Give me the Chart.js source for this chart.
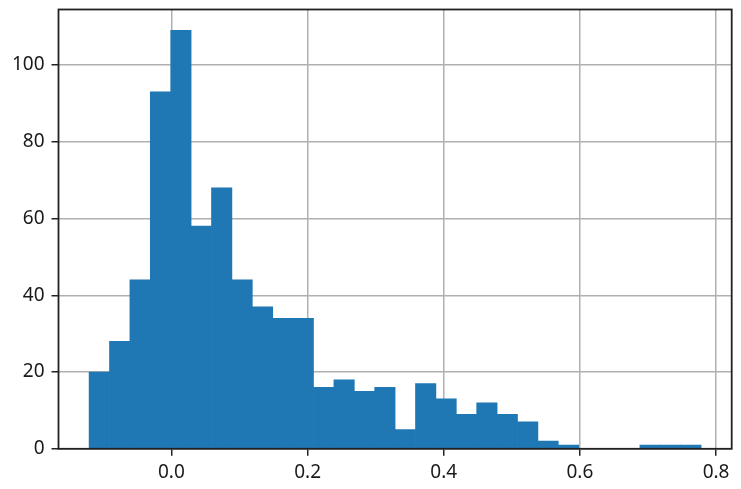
<!DOCTYPE html>
<html>
<head>
<meta charset="utf-8">
<script src="https://cdn.jsdelivr.net/npm/chart.js@4"></script>
<style>
  html, body { margin: 0; padding: 0; background: #fff; }
</style>
</head>
<body>
<canvas id="hist" width="741" height="489"></canvas>
<script>
// histogram counts, 30 equal bins between binMin and binMax
const counts = [20, 28, 44, 93, 109, 58, 68, 44, 37, 34, 34, 16, 18, 15, 16, 5, 17, 13, 9, 12, 9, 7, 2, 1, 0, 0, 0, 1, 1, 1];
const binMin = -0.1209;
const binMax = 0.778;
const xTicks = [0.0, 0.2, 0.4, 0.6, 0.8];
const yTicks = [0, 20, 40, 60, 80, 100];

const binWidth = (binMax - binMin) / counts.length;
const points = counts.map((c, i) => ({ x: binMin + (i + 0.5) * binWidth, y: c }));
const span = binMax - binMin;

// matplotlib style box around the plot area
const framePlugin = {
  id: "frame",
  afterDraw(chart) {
    const { ctx, chartArea: a } = chart;
    ctx.save();
    ctx.strokeStyle = "#222";
    ctx.lineWidth = 1.8;
    ctx.strokeRect(a.left, a.top, a.right - a.left, a.bottom - a.top);
    ctx.restore();
  },
};

const tickFont = { family: "Noto Sans", size: 19 };
const gridOpts = { color: "#b0b0b0", lineWidth: 1.5, tickColor: "#222", tickLength: 7, tickWidth: 1.5, offset: false };

new Chart(document.getElementById("hist"), {
  type: "bar",
  data: {
    datasets: [
      {
        data: points,
        backgroundColor: "#1f77b4",
        borderWidth: 0,
        barPercentage: 1,
        categoryPercentage: 1,
      },
    ],
  },
  options: {
    responsive: false,
    animation: false,
    devicePixelRatio: 1,
    layout: { padding: { top: 9.5, right: 9.3, left: 0, bottom: 0 } },
    plugins: { legend: { display: false }, tooltip: { enabled: false } },
    scales: {
      x: {
        type: "linear",
        z: 1,
        offset: false,
        min: binMin - 0.05 * span,
        max: binMax + 0.05 * span,
        afterBuildTicks: (s) => { s.ticks = xTicks.map((v) => ({ value: v })); },
        afterFit: (s) => { s.height = 40.2; s.paddingLeft = 0; s.paddingRight = 0; },
        border: { display: false },
        grid: gridOpts,
        ticks: { color: "#1a1a1a", font: tickFont, padding: 5, maxRotation: 0, callback: (v) => v.toFixed(1) },
      },
      y: {
        z: 1,
        min: 0,
        max: 109 * 1.05,
        afterBuildTicks: (s) => { s.ticks = yTicks.map((v) => ({ value: v })); },
        afterFit: (s) => { s.width = 58.5; s.paddingTop = 0; s.paddingBottom = 0; },
        border: { display: false },
        grid: gridOpts,
        ticks: { color: "#1a1a1a", font: tickFont, padding: 7, callback: (v) => String(v) },
      },
    },
  },
  plugins: [framePlugin],
});
</script>
</body>
</html>
